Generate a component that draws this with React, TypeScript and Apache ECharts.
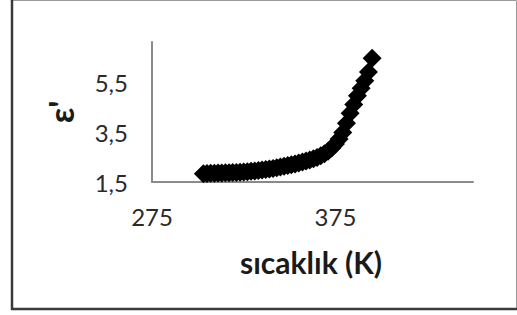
import React, { useEffect, useRef } from "react";
import * as echarts from "echarts";

const temperatures = [
  303, 305, 307, 309, 311, 313, 315, 317, 319, 321, 323, 325, 327, 329, 331, 333,
  335, 337, 339, 341, 343, 345, 347, 349, 351, 353, 355, 357, 359, 361, 363, 365,
  367, 369, 371, 373, 375, 377, 379, 381, 383, 385, 387, 389, 391, 393, 395,
];
const epsilonValues = [
  1.83, 1.84, 1.85, 1.85, 1.86, 1.86, 1.87, 1.87, 1.88, 1.88, 1.89, 1.9, 1.91, 1.93, 1.94, 1.96,
  1.98, 2.0, 2.02, 2.04, 2.07, 2.1, 2.13, 2.16, 2.19, 2.22, 2.26, 2.3, 2.34, 2.38, 2.43, 2.48,
  2.55, 2.63, 2.73, 2.86, 3.02, 3.22, 3.48, 3.85, 4.25, 4.6, 4.95, 5.25, 5.55, 5.9, 6.45,
];
const xAxisTitle = "sıcaklık (K)";
const yAxisTitle = "ε'";

export default function App() {
  const ref = useRef<HTMLDivElement>(null);
  useEffect(() => {
    if (!ref.current) return;
    const chart = echarts.init(ref.current, null, { renderer: "svg" });
    const font = "Lato, 'Open Sans', sans-serif";
    chart.setOption({
      animation: false,
      backgroundColor: "#ffffff",
      grid: { left: 152, top: 42, right: 44, bottom: 133, containLabel: false },
      xAxis: {
        type: "value",
        min: 275,
        max: 450,
        interval: 100,
        axisLine: { show: true, lineStyle: { color: "#8a8a8a", width: 2 } },
        axisTick: { show: false },
        splitLine: { show: false },
        axisLabel: {
          show: true,
          showMaxLabel: false,
          margin: 22,
          fontSize: 24,
          fontFamily: font,
          color: "#2a2a2a",
        },
      },
      yAxis: {
        type: "value",
        min: 1.5,
        max: 7.1,
        interval: 2,
        axisLine: { show: true, lineStyle: { color: "#8a8a8a", width: 2 } },
        axisTick: { show: false },
        splitLine: { show: false },
        axisLabel: {
          show: true,
          showMaxLabel: false,
          margin: 24,
          fontSize: 24,
          fontFamily: font,
          color: "#2a2a2a",
          formatter: (v: number) => String(v).replace(".", ","),
        },
      },
      series: [
        {
          type: "scatter",
          symbol: "diamond",
          symbolSize: 19,
          itemStyle: { color: "#000", opacity: 1 },
          data: temperatures.map((t, i) => [t, epsilonValues[i]]),
        },
      ],
      graphic: [
        {
          type: "rect",
          shape: { x: 11.5, y: 0.5, width: 505, height: 308 },
          style: { fill: "none", stroke: "#9a9a9a", lineWidth: 1 },
          silent: true,
        },
        {
          type: "line",
          shape: { x1: 12, y1: 0, x2: 12, y2: 310 },
          style: { stroke: "#3a3a3a", lineWidth: 2.5 },
          silent: true,
        },
        {
          type: "line",
          shape: { x1: 11, y1: 309, x2: 517, y2: 309 },
          style: { stroke: "#3a3a3a", lineWidth: 2.5 },
          silent: true,
        },
        {
          type: "text",
          x: 311,
          y: 262,
          style: {
            text: xAxisTitle,
            font: `bold 30px ${font}`,
            fill: "#1a1a1a",
            textAlign: "center",
            textVerticalAlign: "middle",
          },
        },
        {
          type: "text",
          x: 60,
          y: 112,
          rotation: Math.PI / 2,
          style: {
            text: yAxisTitle,
            font: `bold 34px ${font}`,
            fill: "#1a1a1a",
            textAlign: "center",
            textVerticalAlign: "middle",
          },
        },
      ],
    });
    return () => chart.dispose();
  }, []);
  return (
    <div
      ref={ref}
      style={{ position: "fixed", left: 0, top: 0, width: 517, height: 315 }}
    />
  );
}
